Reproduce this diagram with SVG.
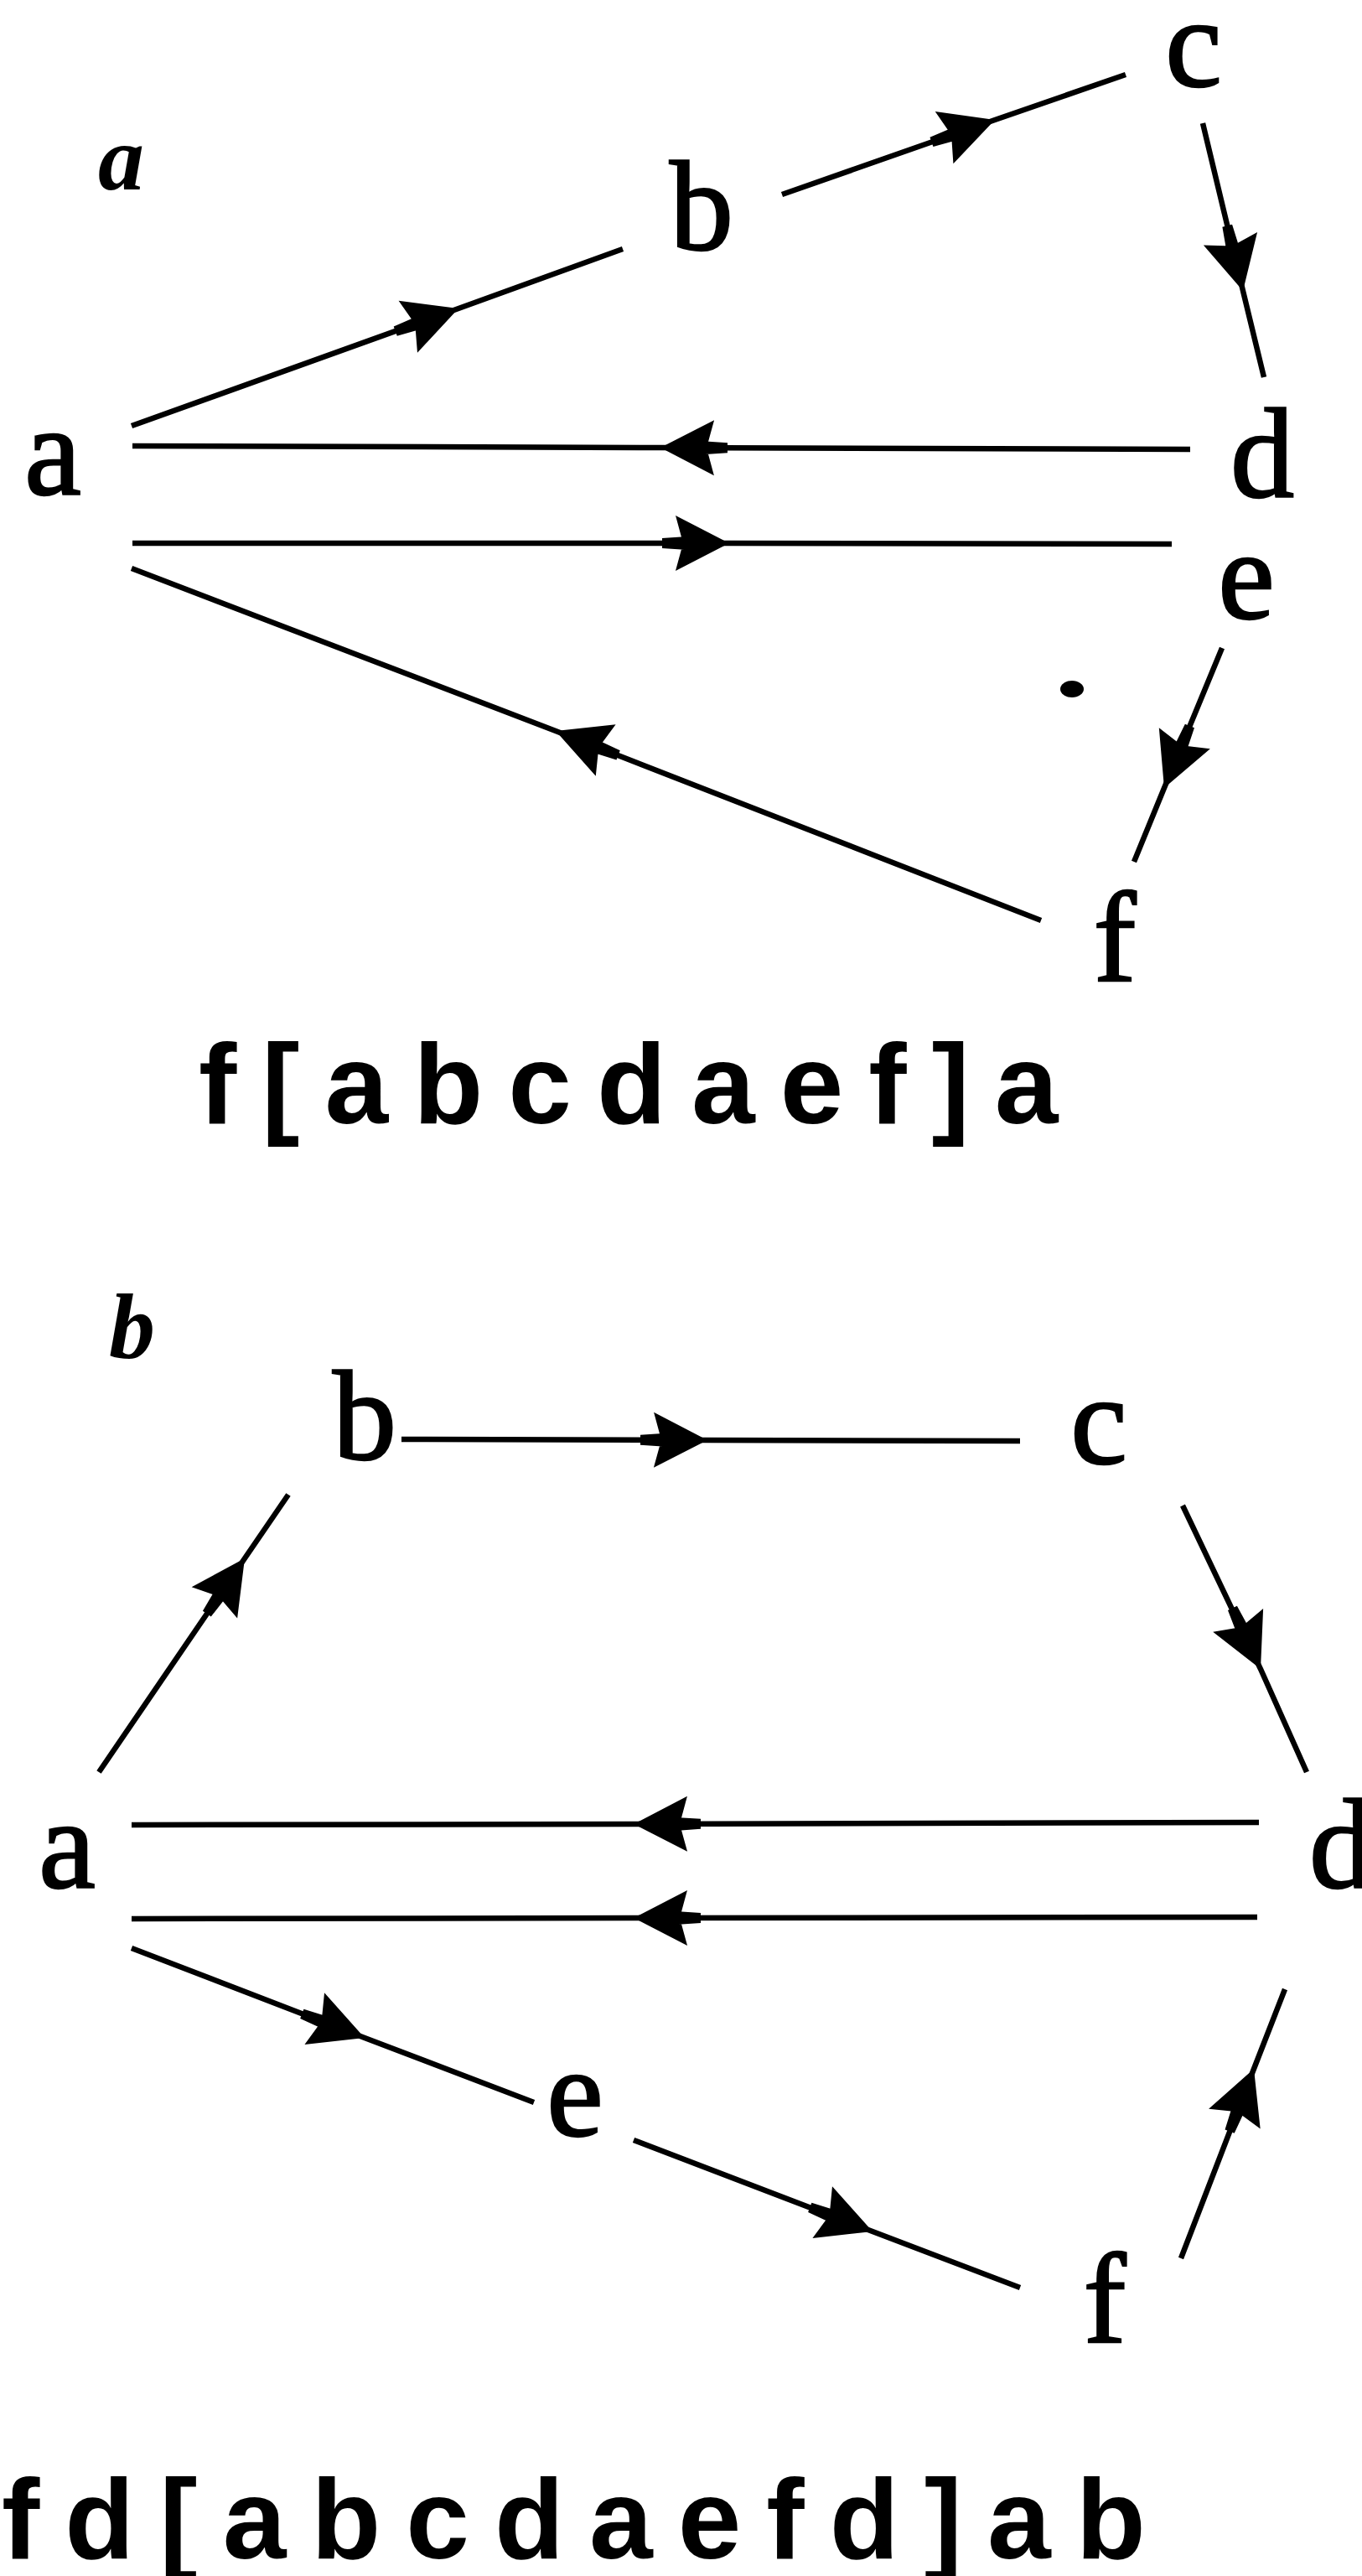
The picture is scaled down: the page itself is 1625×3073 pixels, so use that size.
<svg xmlns="http://www.w3.org/2000/svg" width="1625" height="3073" viewBox="0 0 1625 3073">
<style>
.node{font-family:"Liberation Serif","Times New Roman",serif;font-size:152px;fill:#000;stroke:#000;stroke-width:2.5;text-anchor:middle}
.lab{font-family:"Liberation Serif","Times New Roman",serif;font-size:110px;font-weight:bold;font-style:italic;fill:#000}
.seq{font-family:"Liberation Sans",Arial,sans-serif;font-size:136px;font-weight:bold;letter-spacing:30px;fill:#000}
.edge{fill:none;stroke:#000;stroke-width:6.5;stroke-linecap:butt;marker-mid:url(#ah)}
</style>
<defs>
<marker id="ah" markerUnits="userSpaceOnUse" viewBox="-100 -50 120 100" refX="0" refY="0" markerWidth="120" markerHeight="100" orient="auto" overflow="visible">
<path d="M0,0 L-64,-33 L-55,0 L-64,33 Z M-50,-8 L-80,-6 L-80,6 L-50,8 Z" fill="#000"/>
</marker>
</defs>
<rect x="0" y="0" width="1625" height="3073" fill="#fff"/>

<g id="panel-a">
<text id="label-a" class="lab" x="117" y="226">a</text>
<g id="a1"><text class="node" x="63" y="590">a</text></g>
<g id="b1"><text class="node" x="837" y="298">b</text></g>
<g id="c1"><text class="node" x="1424" y="103">c</text></g>
<g id="d1"><text class="node" x="1506" y="593">d</text></g>
<g id="e1"><text class="node" x="1487" y="738">e</text></g>
<g id="f1"><text class="node" x="1330" y="1170">f</text></g>
<ellipse id="dot" cx="1279" cy="822" rx="14" ry="10" fill="#000"/>
<g id="edges-a">
<polyline class="edge" points="157,508 547,368 743,297"/>
<polyline class="edge" points="933,232 1187,143 1343,89"/>
<polyline class="edge" points="1435,147 1483,347 1508,450"/>
<polyline class="edge" points="1420,536 788,534 158,532"/>
<polyline class="edge" points="158,648 870,648 1398,649"/>
<polyline class="edge" points="1458,773 1389,940 1353,1028"/>
<polyline class="edge" points="1242,1098 663,872 157,678"/>
</g>
<text id="seq-a" class="seq" x="237" y="1340">f[abcdaef]a</text>
</g>

<g id="panel-b">
<text id="label-b" class="lab" x="130" y="1620">b</text>
<g id="a2"><text class="node" x="80" y="2252">a</text></g>
<g id="b2"><text class="node" x="435" y="1741">b</text></g>
<g id="c2"><text class="node" x="1311" y="1746">c</text></g>
<g id="d2"><text class="node" x="1600" y="2252">d</text></g>
<g id="e2"><text class="node" x="686" y="2548">e</text></g>
<g id="f2"><text class="node" x="1318" y="2794">f</text></g>
<g id="edges-b">
<polyline class="edge" points="118,2114 292,1859 344,1783"/>
<polyline class="edge" points="479,1717 844,1718 1217,1719"/>
<polyline class="edge" points="1411,1796 1504,1991 1559,2114"/>
<polyline class="edge" points="1502,2174 756,2176 157,2177"/>
<polyline class="edge" points="1500,2287 756,2288 157,2289"/>
<polyline class="edge" points="157,2324 435,2431 637,2508"/>
<polyline class="edge" points="756,2553 1041,2662 1217,2729"/>
<polyline class="edge" points="1409,2694 1496,2468 1533,2373"/>
</g>
<text id="seq-b" class="seq" x="2" y="3052">fd[abcdaefd]ab</text>
</g>
</svg>
